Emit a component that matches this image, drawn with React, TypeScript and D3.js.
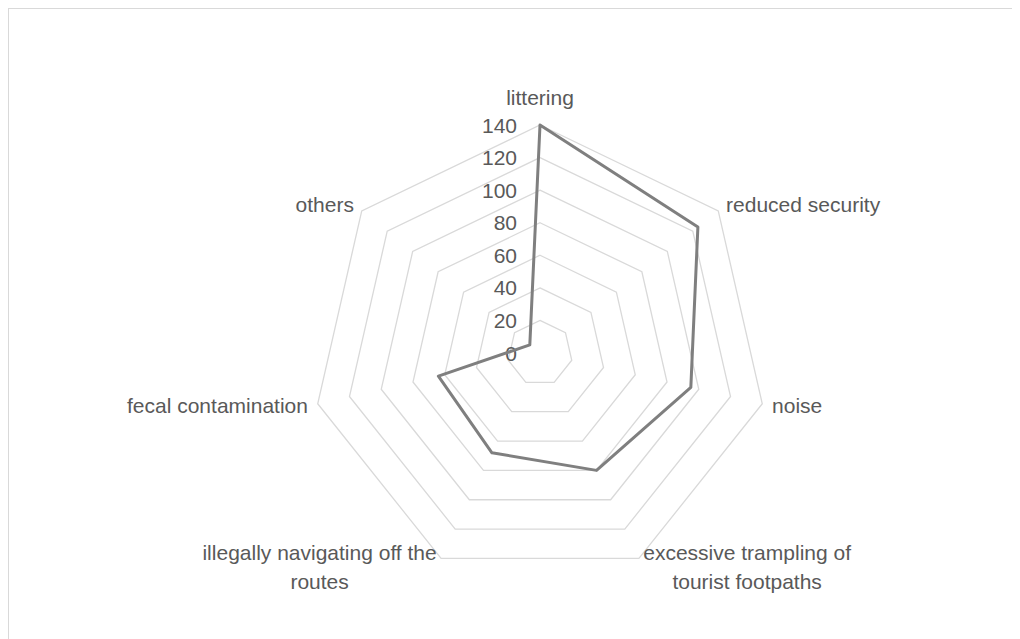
import React, { useEffect, useRef } from "react";
import * as d3 from "d3";

const categories: string[][] = [
  ["littering"],
  ["reduced security"],
  ["noise"],
  ["excessive trampling of", "tourist footpaths"],
  ["illegally navigating off the", "routes"],
  ["fecal contamination"],
  ["others"],
];
const values: number[] = [140, 124, 95, 80, 68, 64, 8];
const ticks: number[] = [0, 20, 40, 60, 80, 100, 120, 140];

const W = 1012;
const H = 631;
const CX = 532;
const CY = 345;
const R = 228;
const FONT = "'Liberation Sans', Arial, sans-serif";
const TEXT = "#595959";

export default function App() {
  const ref = useRef<SVGSVGElement>(null);

  useEffect(() => {
    document.body.style.overflow = "hidden";
    const svg = d3.select(ref.current!);
    svg.selectAll("*").remove();

    const n = categories.length;
    const r = d3.scaleLinear().domain([0, 140]).range([0, R]);
    const ang = (i: number) => (i * 2 * Math.PI) / n;
    const pt = (i: number, rad: number): [number, number] => [
      CX + rad * Math.sin(ang(i)),
      CY - rad * Math.cos(ang(i)),
    ];

    svg
      .append("rect")
      .attr("x", 0.5)
      .attr("y", 0.5)
      .attr("width", W + 20)
      .attr("height", H + 20)
      .attr("fill", "#fff")
      .attr("stroke", "#d9d9d9")
      .attr("stroke-width", 1);

    const line = d3.line<[number, number]>().curve(d3.curveLinearClosed);

    // grid rings
    svg
      .append("g")
      .selectAll("path")
      .data(ticks.filter((t) => t > 0))
      .join("path")
      .attr("d", (t) => line(d3.range(n).map((i) => pt(i, r(t))))!)
      .attr("fill", "none")
      .attr("stroke", "#d9d9d9")
      .attr("stroke-width", 1.3);

    // tick labels
    svg
      .append("g")
      .selectAll("text")
      .data(ticks)
      .join("text")
      .attr("x", CX - 23)
      .attr("y", (t) => CY - r(t) + 7.5)
      .attr("text-anchor", "end")
      .attr("font-family", FONT)
      .attr("font-size", 21)
      .attr("fill", TEXT)
      .text((t) => String(t));

    // series
    svg
      .append("path")
      .attr("d", line(values.map((v, i) => pt(i, r(v))))!)
      .attr("fill", "none")
      .attr("stroke", "#7f7f7f")
      .attr("stroke-width", 3)
      .attr("stroke-linejoin", "round");

    // category labels
    const lineH = 29.3;
    categories.forEach((lines, i) => {
      const [ax, ay] = pt(i, R + 10);
      const s = Math.sin(ang(i));
      const g = svg.append("g");
      const texts = lines.map((l) =>
        g
          .append("text")
          .attr("font-family", FONT)
          .attr("font-size", 21)
          .attr("fill", TEXT)
          .attr("text-anchor", "middle")
          .text(l)
      );
      const widths = texts.map((t) => (t.node() as SVGTextElement).getComputedTextLength());
      const maxW = d3.max(widths) || 0;
      let cx = ax;
      if (s > 0.05) cx = ax + maxW / 2;
      else if (s < -0.05) cx = ax - maxW / 2;
      const top = Math.abs(s) <= 0.05 && Math.cos(ang(i)) > 0;
      texts.forEach((t, k) => {
        let y: number;
        if (top) y = ay - 10 - (lines.length - 1 - k) * lineH;
        else y = ay + 7 + (k - (lines.length - 1) / 2) * lineH;
        t.attr("x", cx).attr("y", y);
      });
    });
  }, []);

  return <svg ref={ref} width={W} height={H} style={{ display: "block" }} />;
}
